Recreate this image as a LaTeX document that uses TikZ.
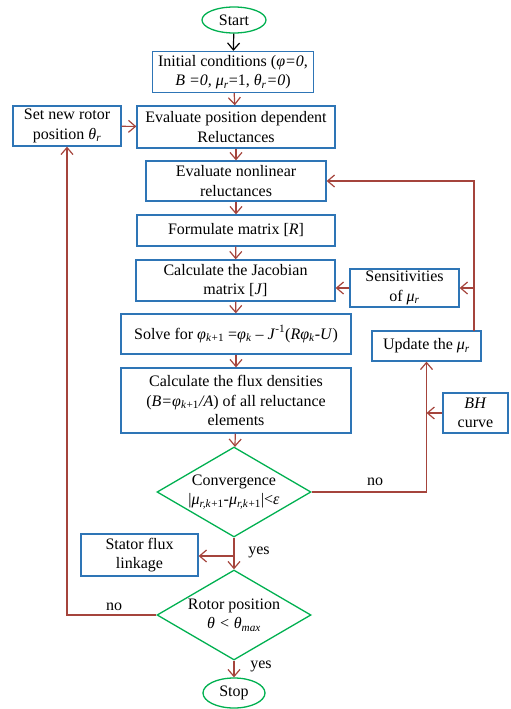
\documentclass[tikz,border=0pt]{standalone}
\usepackage{fontspec}
\setmainfont{Liberation Serif}
\usetikzlibrary{arrows.meta,shapes.geometric}
\definecolor{boxblue}{RGB}{46,117,182}
\definecolor{decgreen}{RGB}{0,176,80}
\definecolor{flowred}{RGB}{165,68,60}
\newcommand{\sub}[1]{\textsubscript{\textit{#1}}}
\newcommand{\flowfont}{\fontsize{16}{19.5}\selectfont}
\tikzset{
box/.style={draw=boxblue, line width=1.3pt, inner sep=0pt, align=center, font=\flowfont},
term/.style={ellipse, draw=decgreen, line width=1.3pt, inner sep=0pt, font=\flowfont},
decision/.style={diamond, draw=decgreen, line width=1.3pt, inner xsep=-9pt, inner ysep=-4pt, shape aspect=1.7,
minimum width=154pt, minimum height=90pt, align=center, font=\flowfont},
arrow/.style={-{Straight Barb[length=7pt,width=12pt]}, draw=flowred, line width=1.2pt},
lbl/.style={font=\flowfont}
}

\begin{document}
\begin{tikzpicture}[x=1pt,y=-1pt]
\useasboundingbox (0,0) rectangle (511,709);
% main column
\node[term, minimum width=64pt, minimum height=26pt] (start) at (234,20) {Start};
\node[box, minimum width=161pt, minimum height=41pt] (init) at (233,72)
{Initial conditions (\textit{φ=0},\\\textit{B =0, μ}\sub{r}=1, \textit{θ}\sub{r}\textit{=0})};
\node[box, minimum width=198pt, minimum height=42pt] (evalpos) at (236,127)
{Evaluate position dependent\\Reluctances};
\node[box, minimum width=108pt, minimum height=40pt] (setrotor) at (67,126)
{Set new rotor\\position \textit{θ}\sub{r}};
\node[box, minimum width=180pt, minimum height=40pt] (nonlin) at (236,181)
{Evaluate nonlinear\\reluctances};
\node[box, minimum width=198pt, minimum height=31pt] (formR) at (236,230.5)
{Formulate matrix [\textit{R}]};
\node[box, minimum width=199pt, minimum height=41pt] (jacob) at (235.5,280.5)
{Calculate the Jacobian\\matrix [\textit{J}]};
\node[box, minimum width=109pt, minimum height=38pt] (sens) at (404.5,288)
{Sensitivities\\of \textit{μ}\sub{r}};
\node[box, minimum width=230pt, minimum height=40pt] (solve) at (236,334)
{Solve for \textit{φ}\sub{k}\textsubscript{+1} =\textit{φ}\sub{k} – \textit{J}\textsuperscript{-1}(\textit{Rφ}\sub{k}-\textit{U})};
\node[box, minimum width=109pt, minimum height=30pt] (update) at (426.5,346)
{Update the \textit{μ}\sub{r}};
\node[box, minimum width=230pt, minimum height=65pt] (flux) at (236,400.5)
{Calculate the flux densities\\(\textit{B=φ}\sub{k}\textsubscript{+1}\textit{/A}) of all reluctance\\elements};
\node[box, minimum width=65pt, minimum height=40pt] (bh) at (475.5,413)
{\textit{BH}\\curve};
\node[decision] (conv) at (234,492)
{Convergence\\|\textit{μ}\sub{r,k}\textsubscript{+1}-\textit{μ}\sub{r,k}\textsubscript{+1}|<\textit{ε}};
\node[box, minimum width=117pt, minimum height=42pt] (stator) at (139.5,555)
{Stator flux\\linkage};
\node[decision] (rotor) at (234,615)
{Rotor position\\\textit{θ} \textit{<} \textit{θ}\sub{max}};
\node[term, minimum width=62pt, minimum height=30pt] (stop) at (234,693) {Stop};
\coordinate (fb) at (474,331);
\coordinate (split) at (234,556);
% connectors
\draw[arrow, draw=black] (start) -- (init);
\foreach \a/\b in {init/evalpos,setrotor/evalpos,evalpos/nonlin,nonlin/formR,formR/jacob,jacob/solve,solve/flux,flux/conv,conv/rotor,rotor/stop}
\draw[arrow] (\a) -- (\b);
\draw[arrow] (split) -- (split -| stator.east);
\draw[arrow] (conv.east) -| (update.south);
\draw[arrow] (bh.west) -- (bh.west -| update.south);
\draw[arrow] (fb) |- (nonlin.east);
\draw[arrow] (sens.east -| fb) -- (sens.east);
\draw[arrow] (sens.west) -- (sens.west -| jacob.east);
\draw[arrow] (rotor.west) -| (setrotor.south);
% labels
\node[lbl] (noconv) at (375,482) {no};
\node[lbl] (yesconv) at (259,552) {yes};
\node[lbl] (norotor) at (114,607) {no};
\node[lbl] (yesrotor) at (261,666) {yes};
\end{tikzpicture}
\end{document}
